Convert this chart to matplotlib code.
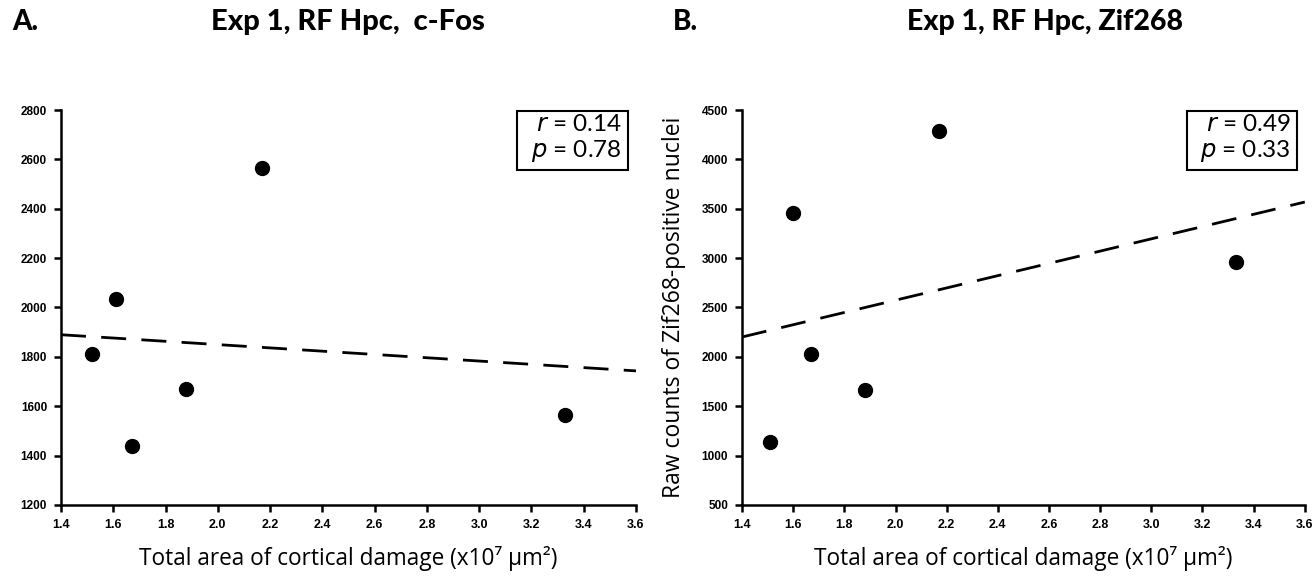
import matplotlib.pyplot as plt
import numpy as np

# damage area (x10^7 um^2)
area = [1.52, 1.61, 1.67, 1.88, 2.17, 3.33]
area_b = [1.51, 1.60, 1.67, 1.88, 2.17, 3.33]
cfos = [1810, 2035, 1440, 1670, 2565, 1565]
zif = [1140, 3460, 2030, 1660, 4290, 2960]

xticks = [1.4, 1.6, 1.8, 2.0, 2.2, 2.4, 2.6, 2.8, 3.0, 3.2, 3.4, 3.6]
yticks_a = [1200, 1400, 1600, 1800, 2000, 2200, 2400, 2600, 2800]
yticks_b = [500, 1000, 1500, 2000, 2500, 3000, 3500, 4000, 4500]

fig = plt.figure(figsize=(13.14, 5.79), dpi=100)
ax1 = fig.add_axes([0.0464, 0.128, 0.4376, 0.682])
ax2 = fig.add_axes([0.5647, 0.128, 0.4283, 0.682])

xlab = 'Total area of cortical damage (x10\u2077 \u03bcm\u00b2)'
lab_font = ['Open Sans', 'DejaVu Sans']


def panel(ax, x, y, yticks, stats, ylabel=None):
    ax.scatter(x, y, s=100, color='black', zorder=3)
    m, b = np.polyfit(x, y, 1)
    xl = np.array([xticks[0], xticks[-1]])
    ax.plot(xl, m * xl + b, color='black', lw=2, dashes=(9, 5.5))
    ax.set_xlim(xticks[0], xticks[-1])
    ax.set_ylim(yticks[0], yticks[-1])
    ax.set_xticks(xticks)
    ax.set_xticklabels(['%.1f' % v for v in xticks])
    ax.set_yticks(yticks)
    for s in ['top', 'right']:
        ax.spines[s].set_visible(False)
    for s in ['left', 'bottom']:
        ax.spines[s].set_linewidth(1.8)
    ax.tick_params(direction='out', length=5, width=1.8, pad=5)
    for lab in ax.get_xticklabels():
        lab.set_fontfamily('Liberation Sans')
        lab.set_fontweight('bold')
        lab.set_fontsize(9)
    for lab in ax.get_yticklabels():
        lab.set_fontfamily('Liberation Sans')
        lab.set_fontweight('bold')
        lab.set_fontsize(8.5)
    ax.set_xlabel(xlab, fontsize=16.3, family=lab_font, labelpad=11)
    if ylabel:
        ax.set_ylabel(ylabel, fontsize=16.5, family=lab_font, labelpad=11)
    ax.text(0.975, 0.99, stats, transform=ax.transAxes, ha='right', va='top',
            fontsize=17.5, family='Lato', linespacing=1.15,
            bbox=dict(boxstyle='square,pad=0.25', fc='white', ec='black', lw=1.5))


panel(ax1, area, cfos, yticks_a, '  $\\it{r}$ = 0.14\n$\\it{p}$ = 0.78')
panel(ax2, area_b, zif, yticks_b, '  $\\it{r}$ = 0.49\n$\\it{p}$ = 0.33',
      ylabel='Raw counts of Zif268-positive nuclei')

fig.text(0.009, 0.962, 'A.', fontsize=20, fontweight='black', family='Lato', va='center')
fig.text(0.265, 0.962, 'Exp 1, RF Hpc,  c-Fos', fontsize=21, fontweight='black',
         family='Lato', va='center', ha='center')
fig.text(0.512, 0.962, 'B.', fontsize=20, fontweight='black', family='Lato', va='center')
fig.text(0.795, 0.962, 'Exp 1, RF Hpc, Zif268', fontsize=20.5, fontweight='black',
         family='Lato', va='center', ha='center')

fig.savefig('out.png', dpi=100)
